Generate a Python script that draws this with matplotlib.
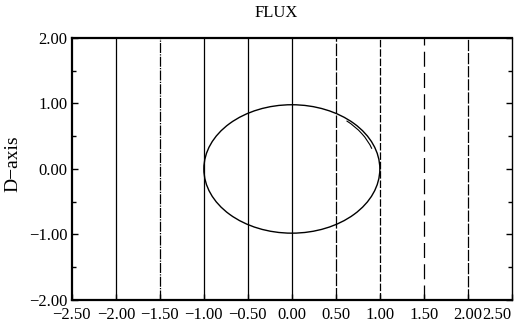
import matplotlib.pyplot as plt
from matplotlib.patches import Ellipse, Arc
import numpy as np

# flux lines (vertical) and the closed flux loop
line_x = [-2.0, -1.5, -1.0, -0.5, 0.0, 0.5, 1.0, 1.5, 2.0]
line_style = ['-', (0, (8, 1, 1, 1)), '-', '-', '-', (0, (10, 1.5)), (0, (6, 1.5)), (0, (12, 5)), (0, (9, 1.5))]
loop_center = (0.0, 0.0)
loop_width = 2.0
loop_height = 1.96

xticks = [-2.5, -2.0, -1.5, -1.0, -0.5, 0.0, 0.5, 1.0, 1.5, 2.0, 2.5]
yticks = [-2.0, -1.0, 0.0, 1.0, 2.0]

plt.rcParams['font.family'] = ['Liberation Serif', 'DejaVu Serif']

fig = plt.figure(figsize=(5.17, 3.28), dpi=100)
ax = fig.add_axes([0.139, 0.0854, 0.851, 0.799])

for x, ls in zip(line_x, line_style):
    ax.axvline(x, color='black', lw=0.9, ls=ls)

ax.add_patch(Ellipse(loop_center, loop_width, loop_height, fill=False, ec='black', lw=1.0))
ax.add_patch(Arc((-0.04, 0.0), loop_width, loop_height, theta1=18, theta2=48, ec='black', lw=0.8))

ax.set_xlim(-2.5, 2.5)
ax.set_ylim(-2.0, 2.0)
ax.set_xticks(xticks)
ax.set_yticks(yticks)
ax.set_yticks([-1.5, -0.5, 0.5, 1.5], minor=True)
fmt = lambda v: ('%.2f' % v).replace('-', '\u2212')
ax.set_xticklabels([fmt(v) for v in xticks])
ax.set_yticklabels([fmt(v) for v in yticks])
ax.tick_params(which='both', direction='in', top=False, right=True, labelsize=12, pad=3)
ax.tick_params(axis='x', pad=5)
ax.tick_params(which='major', length=4, width=1)
ax.tick_params(which='minor', length=3, width=1)
ax.get_xticklabels()[-1].set_ha('right')

for s in ['left', 'bottom', 'top']:
    ax.spines[s].set_linewidth(1.6)
ax.spines['right'].set_linewidth(1.0)

fig.text(276/517, 1 - 13/328, 'FLUX', fontsize=12, ha='center', va='center')
ax.set_ylabel('D\u2212axis', fontsize=14)
ax.yaxis.set_label_coords(-0.115, 0.52)

plt.savefig('out.png', dpi=100)
